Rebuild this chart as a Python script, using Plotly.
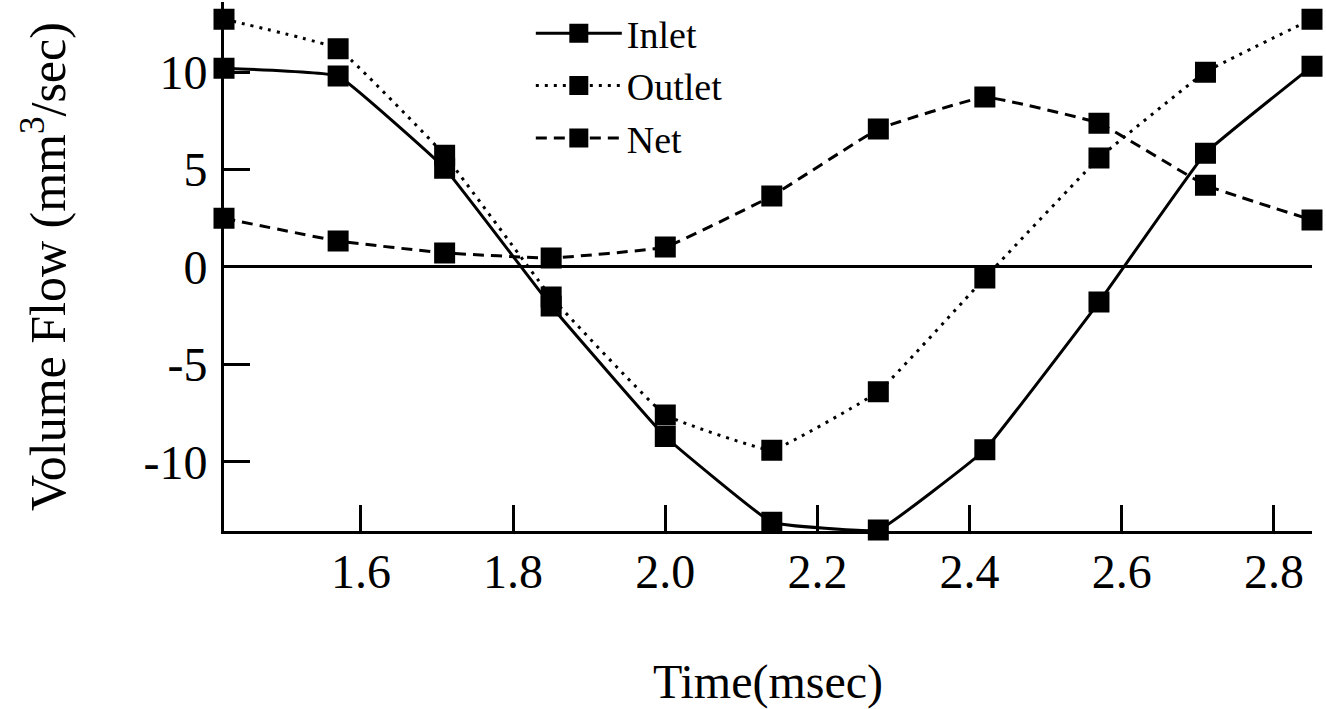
import plotly.graph_objects as go

time_ms = [1.42, 1.57, 1.71, 1.85, 2.00, 2.14, 2.28, 2.42, 2.57, 2.71, 2.85]
inlet = [10.2, 9.8, 5.07, -2.0, -8.7, -13.1, -13.5, -9.38, -1.8, 5.84, 10.3]
outlet = [12.72, 11.2, 5.74, -1.54, -7.6, -9.4, -6.4, -0.56, 5.59, 10.0, 12.72]
net = [2.5, 1.33, 0.72, 0.46, 1.02, 3.64, 7.08, 8.72, 7.38, 4.2, 2.41]

series_names = ["Inlet", "Outlet", "Net"]
series_values = [inlet, outlet, net]
dashes = ["solid", "3px,6px", "11px,7px"]

y_tickvals = [-10, -5, 0, 5, 10]
y_ticktext = ["-10", "-5", "0", "5", "10"]

FONT = "Liberation Serif, Times New Roman, serif"

fig = go.Figure()
for name, vals, dash in zip(series_names, series_values, dashes):
    fig.add_trace(go.Scatter(
        x=time_ms, y=vals, name=name, mode="lines+markers",
        line=dict(color="black", width=3, dash=dash, shape="spline", smoothing=0.25),
        marker=dict(symbol="square", size=18, color="black",
                    line=dict(color="black", width=3)),
        cliponaxis=False,
    ))

fig.update_layout(
    width=1326, height=709,
    paper_bgcolor="white", plot_bgcolor="white",
    margin=dict(l=224, r=14, t=2, b=178, autoexpand=False),
    font=dict(family=FONT, color="black", size=38),
    legend=dict(
        x=0.282, y=1.0, xanchor="left", yanchor="top",
        font=dict(family=FONT, size=38, color="black"),
        bgcolor="rgba(0,0,0,0)", itemwidth=86,
        tracegroupgap=0,
    ),
    showlegend=True,
)
fig.update_xaxes(
    range=[1.42, 2.85], tick0=1.6, dtick=0.2, tickformat=".1f",
    showline=True, linecolor="black", linewidth=3,
    ticks="inside", ticklen=26, tickwidth=2.5, tickcolor="black",
    showgrid=False, zeroline=False, automargin=False,
    tickfont=dict(family=FONT, size=48, color="black"),
    ticklabelstandoff=-4,
    title=dict(text="Time(msec)", font=dict(family=FONT, size=48, color="black"), standoff=70),
)
fig.update_yaxes(
    range=[-13.55, 13.6], tickvals=y_tickvals, ticktext=y_ticktext,
    showline=True, linecolor="black", linewidth=3,
    ticks="inside", ticklen=26, tickwidth=2.5, tickcolor="black",
    showgrid=False, zeroline=True, zerolinecolor="black", zerolinewidth=2.5,
    automargin=False,
    tickfont=dict(family=FONT, size=48, color="black"),
    ticklabelstandoff=4,
    title=dict(text="Volume Flow (mm<sup>3</sup>/sec)", font=dict(family=FONT, size=50, color="black"), standoff=62),
)

fig.write_html("out.html", config={"displayModeBar": False},
               post_script="document.body.style.margin='0px';")
